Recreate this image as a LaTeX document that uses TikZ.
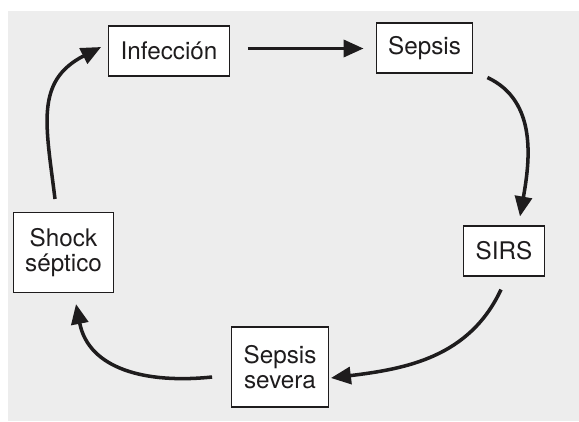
\documentclass[tikz,border=0pt]{standalone}
\usepackage{fontspec}
\setmainfont{TeX Gyre Heros}
\usepackage{xcolor}
\usetikzlibrary{arrows.meta}
\definecolor{bggray}{RGB}{237,237,237}
\definecolor{ink}{RGB}{30,28,29}
\tikzset{
  st/.style={draw=ink, line width=0.6pt, fill=white, text=ink,
             font=\fontsize{13.8}{14.6}\selectfont, align=center,
             inner xsep=0.24cm, minimum height=#1},
  st/.default=1cm,
  flow/.style={-{Triangle[length=0.4cm, width=0.34cm]}, line width=2pt, ink}
}
\begin{document}
\begin{tikzpicture}
  \useasboundingbox (0,0) rectangle (11.58,8.42);
  \fill[bggray] (0.16,0) rectangle (11.58,8.2);
  \node[st] (inf) at (3.38,7.40) {Infección};
  \node[st] (sep) at (8.49,7.46) {Sepsis};
  \node[st] (sirs) at (10.08,3.40) {SIRS};
  \node[st=1.6cm] (sev) at (5.60,1.08) {Sepsis\\severa};
  \node[st=1.6cm] (shock) at (1.27,3.37) {Shock\\séptico};
  \draw[flow, shorten <=0.36cm, shorten >=0.24cm] ([yshift=0.05cm]inf.east) -- ([yshift=0.05cm]inf.east -| sep.west);
  \draw[flow] ([shift={(0.28,-0.08)}]sep.south east) to[out=-25, in=80] ([shift={(0.32,0.18)}]sirs.north);
  \draw[flow] ([shift={(-0.06,-0.26)}]sirs.south) to[out=-115, in=7] ([shift={(0.04,-0.22)}]sev.east);
  \draw[flow] ([shift={(-0.38,-0.2)}]sev.west) to[out=-174, in=-79, looseness=1.1] ([shift={(0.25,-0.22)}]shock.south);
  \draw[flow] ([shift={(-0.17,0.26)}]shock.north) to[out=97, in=207, looseness=1.2] ([shift={(-0.14,0.08)}]inf.west);
\end{tikzpicture}
\end{document}
